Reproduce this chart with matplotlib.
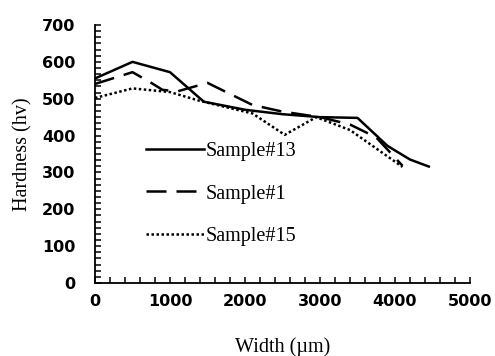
import matplotlib.pyplot as plt
from matplotlib.ticker import MultipleLocator

# Hardness profiles
width_13    = [0, 500, 1000, 1450, 2000, 2500, 3000, 3500, 3900, 4200, 4450]
hardness_13 = [555, 600, 572, 492, 470, 458, 450, 448, 372, 335, 316]

width_1     = [0, 500, 750, 900, 1100, 1500, 2100, 2500, 3000, 3400, 3750, 4100]
hardness_1  = [540, 572, 543, 524, 520, 543, 483, 465, 450, 430, 395, 318]

width_15    = [0, 500, 1000, 1400, 2100, 2530, 2950, 3400, 4100]
hardness_15 = [502, 528, 518, 494, 460, 402, 450, 415, 315]

x_ticks = [0, 1000, 2000, 3000, 4000, 5000]
y_ticks = [0, 100, 200, 300, 400, 500, 600, 700]

plt.rcParams["font.family"] = ["Liberation Serif", "DejaVu Serif"]

fig = plt.figure(figsize=(4.95, 3.56), dpi=100)
ax = fig.add_axes([95 / 495, 73 / 356, 375 / 495, 258 / 356])

ax.plot(width_13, hardness_13, color="black", lw=1.8, label="Sample#13")
ax.plot(width_1, hardness_1, color="black", lw=1.8, dashes=(8, 4), label="Sample#1")
ax.plot(width_15, hardness_15, color="black", lw=1.8, linestyle=(0, (1, 1)), label="Sample#15")

ax.set_xlim(0, 5000)
ax.set_ylim(0, 700)
ax.spines["top"].set_visible(False)
ax.spines["right"].set_visible(False)
ax.spines["left"].set_linewidth(1.3)
ax.spines["bottom"].set_linewidth(1.3)

ax.set_xticks(x_ticks)
ax.set_yticks(y_ticks)
ax.xaxis.set_minor_locator(MultipleLocator(200))
ax.yaxis.set_minor_locator(MultipleLocator(100 / 6))
ax.tick_params(which="both", direction="in", length=4, width=1.1)
ax.tick_params(axis="x", which="major", pad=8)
ax.tick_params(axis="y", which="major", pad=14)
for lab in ax.get_xticklabels() + ax.get_yticklabels():
    lab.set_family("DejaVu Sans")
    lab.set_fontweight("bold")
    lab.set_fontsize(11.5)

ax.set_xlabel("Width (\u00b5m)", fontsize=14.5, labelpad=20)
ax.set_ylabel("Hardness (hv)", fontsize=14.5, labelpad=7)

ax.legend(loc="center left", bbox_to_anchor=(0.087, 0.345), frameon=False,
          fontsize=14.5, handlelength=2.9, handletextpad=0.05, labelspacing=1.15)

fig.savefig("out.png", dpi=100)
